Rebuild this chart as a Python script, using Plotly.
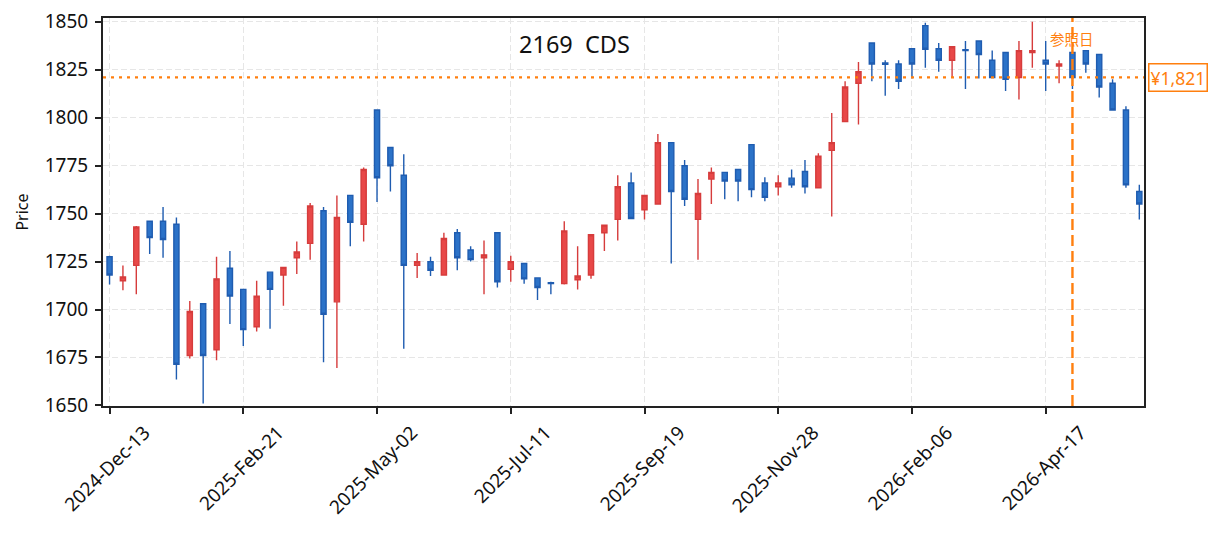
import pandas as pd
import plotly.graph_objects as go

# weekly bars, Friday dates
dates = pd.date_range("2024-12-13", periods=78, freq="W-FRI").strftime("%Y-%m-%d").tolist()

opens = [1727.5, 1715, 1723, 1746, 1746, 1744.5, 1676, 1703, 1679, 1721.5,
         1710.5, 1691, 1719.5, 1718, 1727, 1734.5, 1751.5, 1704, 1759.5, 1744.5,
         1804, 1784.5, 1770, 1723, 1725, 1718, 1740, 1731, 1727, 1740,
         1721, 1724, 1716.5, 1714, 1713.5, 1715.5, 1718, 1740, 1747, 1766,
         1752, 1755, 1787, 1775, 1747, 1768, 1771.5, 1773, 1786, 1766,
         1764, 1768.5, 1772, 1763.5, 1783, 1798, 1818, 1839, 1828.5, 1828,
         1836, 1848, 1836, 1830, 1835.5, 1840, 1830, 1834, 1821, 1834,
         1830, 1827, 1834, 1835, 1833, 1818, 1804, 1761.5]
highs = [1728, 1723, 1743.5, 1746, 1753.5, 1748, 1704.5, 1703.3, 1727.5, 1730.5,
         1710.8, 1715, 1719.8, 1722.3, 1735.5, 1755.5, 1753.5, 1759.5, 1759.8, 1774,
         1804.2, 1784.7, 1781, 1729.5, 1727.5, 1740, 1742, 1733, 1736, 1740.2,
         1728, 1724.2, 1716.7, 1714.5, 1746, 1733, 1739.2, 1744.2, 1770, 1771.5,
         1759.7, 1791.5, 1787.2, 1778, 1768, 1774, 1771.7, 1773.2, 1786.2, 1769,
         1770, 1773, 1778, 1781.5, 1802.5, 1819, 1829, 1839.2, 1830, 1830,
         1836.2, 1849.5, 1839, 1837.2, 1840, 1840.2, 1835, 1834.3, 1840, 1850,
         1840, 1830, 1834.3, 1835.3, 1833.3, 1820, 1806, 1765]
lows = [1713, 1710, 1708, 1729, 1727, 1663.5, 1674.5, 1651, 1673.5, 1692.5,
        1681, 1688.5, 1690, 1702, 1718.5, 1726, 1672.5, 1669.5, 1733, 1735.5,
        1756, 1761.5, 1679.5, 1716.5, 1717.5, 1718, 1720.5, 1725, 1708, 1711.5,
        1714.5, 1713.5, 1705, 1708, 1713, 1710.5, 1716, 1730.5, 1736, 1747.4,
        1747, 1755, 1724, 1754, 1726, 1755, 1757.5, 1756.5, 1758.5, 1756.5,
        1759.5, 1763.5, 1760.5, 1763.5, 1748.5, 1798, 1796.5, 1819, 1811.5, 1815,
        1820.5, 1826, 1824, 1821, 1815, 1820.5, 1820.8, 1814, 1809.5, 1826,
        1814, 1818, 1815, 1823.5, 1810.5, 1803.9, 1763.5, 1747]
closes = [1718, 1717, 1743, 1737.5, 1736.5, 1671.5, 1699, 1676, 1716, 1707,
          1689.5, 1707, 1710.5, 1722, 1730, 1754, 1697.5, 1748, 1745.5, 1773,
          1768.7, 1775, 1723, 1725, 1720.5, 1737, 1727, 1726, 1728.5, 1714.5,
          1725, 1716, 1711.5, 1713.5, 1741, 1717.5, 1739, 1744, 1764, 1747.5,
          1759.5, 1787, 1761.5, 1757.5, 1760.5, 1771.5, 1767, 1767, 1762.5, 1758.5,
          1766, 1765, 1764, 1780, 1787, 1816, 1824, 1828, 1827.8, 1819,
          1828, 1835.7, 1830, 1837, 1835, 1833, 1821, 1820, 1835, 1835,
          1828, 1828, 1821, 1828, 1816, 1804, 1765, 1755]

tick_dates = dates[::10]
tick_labels = ["2024-Dec-13", "2025-Feb-21", "2025-May-02", "2025-Jul-11",
               "2025-Sep-19", "2025-Nov-28", "2026-Feb-06", "2026-Apr-17"]
y_ticks = [1650, 1675, 1700, 1725, 1750, 1775, 1800, 1825, 1850]

ref_date = "2026-05-01"
ref_price = 1821
title_text = "2169  CDS"

FONT = "Noto Sans, Noto Sans CJK JP"
ORANGE = "#ff7f0e"
ref_idx = dates.index(ref_date)

fig = go.Figure(go.Candlestick(
    x=dates, open=opens, high=highs, low=lows, close=closes,
    increasing=dict(fillcolor="#e84848", line=dict(color="#d63c3c", width=1.4)),
    decreasing=dict(fillcolor="#2b72c8", line=dict(color="#1f5cb0", width=1.4)),
    whiskerwidth=0,
    showlegend=False,
))

fig.add_shape(type="line", xref="paper", x0=0, x1=1, yref="y", y0=ref_price, y1=ref_price,
              line=dict(color=ORANGE, width=2.2, dash="3px,5px"))
fig.add_shape(type="line", xref="x", x0=ref_idx, x1=ref_idx, yref="paper", y0=0, y1=1,
              line=dict(color=ORANGE, width=2.4, dash="11px,5px"))

fig.add_annotation(x=ref_idx, xref="x", y=0.9476, yref="paper", text="参照日",
                   showarrow=False, font=dict(family="Noto Sans CJK JP", size=14.5, color=ORANGE),
                   xanchor="center", yanchor="middle")
fig.add_annotation(x=1, xref="paper", xshift=4, y=ref_price, yref="y",
                   text="¥{:,}".format(ref_price), showarrow=False,
                   font=dict(family=FONT, size=17.5, color=ORANGE),
                   xanchor="left", yanchor="middle",
                   bgcolor="white", bordercolor=ORANGE, borderwidth=1.5, borderpad=1)
fig.add_annotation(x=0.4525, xref="paper", y=0.932, yref="paper", text=title_text,
                   showarrow=False, font=dict(family=FONT, size=23.5, color="#111111"),
                   xanchor="center", yanchor="middle")

axis_common = dict(
    showline=True, linecolor="#222222", linewidth=2, mirror=True,
    ticks="outside", ticklen=6, tickwidth=1.5, tickcolor="#222222",
    showgrid=True, gridcolor="#e6e6e6", gridwidth=1, griddash="6px,3px",
    zeroline=False, automargin=False, ticklabeloverflow="allow",
    tickfont=dict(family=FONT, size=19, color="#111111"),
)

# page body has an 8px margin, so shift the plot area up/left by that much
fig.update_layout(
    width=1223, height=534,
    margin=dict(l=95, r=87, t=10, b=136),
    paper_bgcolor="white", plot_bgcolor="white",
    boxgap=0.45,
    font=dict(family=FONT),
    xaxis=dict(axis_common, type="category", range=[-0.49, 77.35],
               tickmode="array", tickvals=tick_dates, ticktext=tick_labels,
               tickangle=-45, ticklabelshift=35, rangeslider=dict(visible=False)),
    yaxis=dict(axis_common, range=[1649.7, 1852], tickmode="array", tickvals=y_ticks,
               ticklabelstandoff=3,
               title=dict(text="Price", font=dict(family=FONT, size=16, color="#111111"),
                          standoff=12)),
)

fig.write_html("out.html")
